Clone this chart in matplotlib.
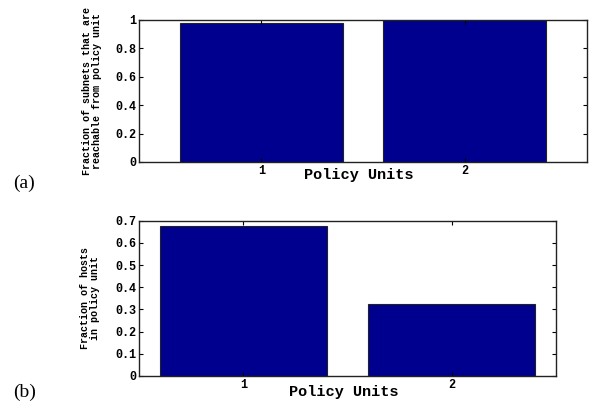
import matplotlib
matplotlib.use("Agg")
import matplotlib.pyplot as plt
import numpy as np

units = [1, 2]
reachable_fraction = [0.98, 1.0]
host_fraction = [0.675, 0.325]

bar_color = "#00008f"
mono = "Liberation Mono"

figure = plt.figure(figsize=(5.92, 4.07), dpi=100)

ax_top = figure.add_axes([0.2348, 0.602, 0.7568, 0.349])
ax_bot = figure.add_axes([0.2348, 0.0762, 0.7044, 0.3815])


def style_axis(axis, yticks, xlim, ylim):
    axis.set_xlim(*xlim)
    axis.set_ylim(*ylim)
    axis.set_xticks(units)
    axis.set_yticks(yticks)
    axis.set_yticklabels([f"{t:g}" for t in yticks])
    axis.tick_params(direction="in", length=3, width=0.8, top=True, right=True,
                     labelsize=8.5, pad=2)
    for lab in axis.get_xticklabels() + axis.get_yticklabels():
        lab.set_fontfamily(mono)
        lab.set_fontweight("bold")
    for spine in axis.spines.values():
        spine.set_linewidth(1.0)
        spine.set_color("#222222")


ax_top.bar(units, reachable_fraction, width=0.8, color=bar_color,
           edgecolor="#222222", linewidth=0.8)
style_axis(ax_top, np.round(np.arange(0, 1.01, 0.2), 1), (0.4, 2.6), (0, 1))
ax_top.set_ylabel("Fraction of subnets that are\nreachable from policy unit",
                  fontfamily=mono, fontweight="bold", fontsize=7.2,
                  linespacing=1.0)
ax_top.yaxis.set_label_coords(-0.083, 0.5)
ax_top.set_xlabel("Policy Units", fontfamily=mono, fontweight="bold",
                  fontsize=11)
ax_top.xaxis.set_label_coords(0.49, -0.045)

ax_bot.bar(units, host_fraction, width=0.8, color=bar_color,
           edgecolor="#222222", linewidth=0.8)
style_axis(ax_bot, np.round(np.arange(0, 0.71, 0.1), 1), (0.5, 2.5), (0, 0.7))
ax_bot.set_ylabel("Fraction of hosts\nin policy unit",
                  fontfamily=mono, fontweight="bold", fontsize=7.2,
                  linespacing=1.0)
ax_bot.yaxis.set_label_coords(-0.094, 0.5)
ax_bot.set_xlabel("Policy Units", fontfamily=mono, fontweight="bold",
                  fontsize=11)
ax_bot.xaxis.set_label_coords(0.49, -0.055)

figure.text(0.022, 0.55, "(a)", fontfamily="Liberation Serif", fontsize=14,
            va="center", ha="left")
figure.text(0.022, 0.037, "(b)", fontfamily="Liberation Serif", fontsize=14,
            va="center", ha="left")

figure.savefig("out.png", dpi=100)
plt.close(figure)
